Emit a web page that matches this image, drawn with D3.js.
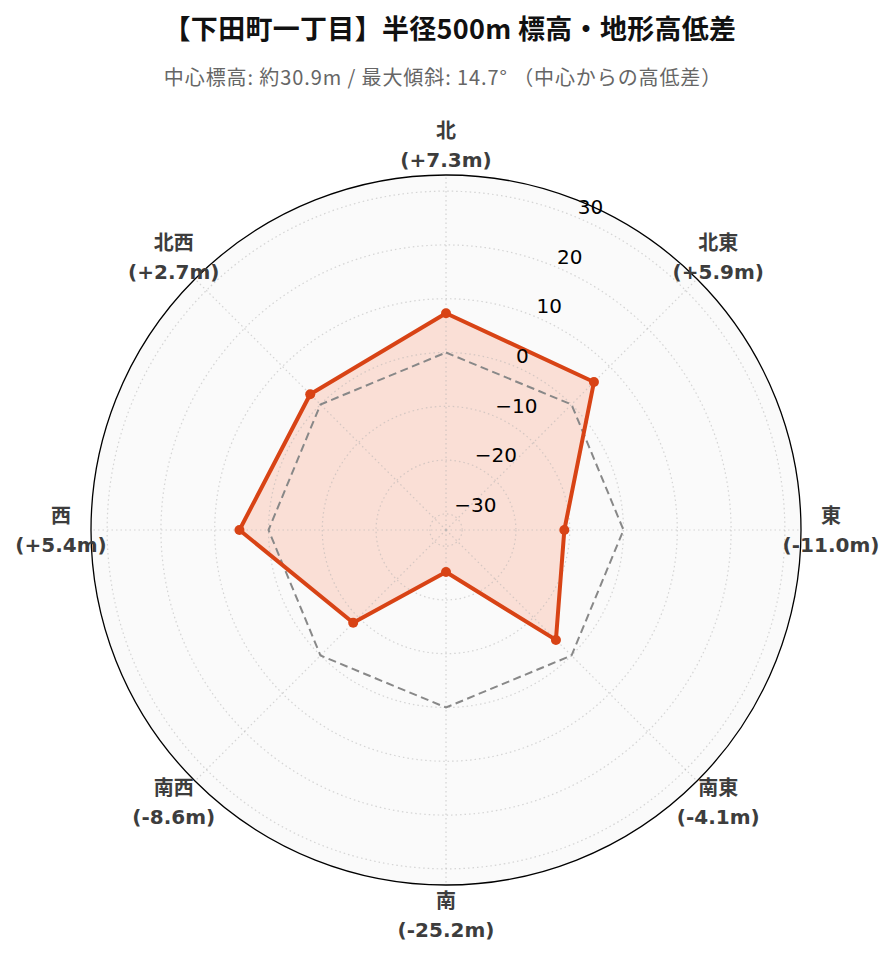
<!DOCTYPE html>
<html>
<head>
<meta charset="utf-8">
<script src="https://cdn.jsdelivr.net/npm/d3@7"></script>
<style>
  html, body { margin: 0; padding: 0; background: #fff; }
  svg { display: block; }
</style>
</head>
<body>
<svg id="chart" width="896" height="962"></svg>
<script>
const titleText = "【下田町一丁目】半径500m 標高・地形高低差";
const subtitleText = "中心標高: 約30.9m / 最大傾斜: 14.7° （中心からの高低差）";
const directions = ["北", "北東", "東", "南東", "南", "南西", "西", "北西"];
const elevationDiff = [7.3, 5.9, -11.0, -4.1, -25.2, -8.6, 5.4, 2.7];
const baselineValues = [0, 0, 0, 0, 0, 0, 0, 0];
const radialTicks = [-30, -20, -10, 0, 10, 20, 30];
const radialDomain = [-33, 33];

const svg = d3.select("#chart");
const cx = 446, cy = 530, R = 355;
const g = svg.append("g").attr("transform", `translate(${cx},${cy})`);

const rScale = d3.scaleLinear().domain(radialDomain).range([0, R]);
const aScale = d3.scalePoint().domain(directions).range([0, 2 * Math.PI * (directions.length - 1) / directions.length]);
const pt = (a, r) => [r * Math.sin(a), -r * Math.cos(a)];

// background
g.append("circle").attr("r", R).attr("fill", "#fafafa");

const radial = d3.lineRadial().angle(d => aScale(d.dir)).radius(d => rScale(d.v)).curve(d3.curveLinearClosed);
const data = directions.map((dir, i) => ({ dir, v: elevationDiff[i] }));
const base = directions.map((dir, i) => ({ dir, v: baselineValues[i] }));

// data fill (below grid)
g.append("path").attr("d", radial(data)).attr("fill", "#ff5722").attr("fill-opacity", 0.16).attr("stroke", "none");

// grid circles
g.selectAll("circle.grid").data(radialTicks).enter().append("circle")
  .attr("class", "grid").attr("r", d => rScale(d))
  .attr("fill", "none").attr("stroke", "#b0b0b0").attr("stroke-opacity", 0.5)
  .attr("stroke-width", 1.2).attr("stroke-dasharray", "1.5,3");

// angular grid lines
g.selectAll("line.spoke").data(directions).enter().append("line")
  .attr("class", "spoke")
  .attr("x1", 0).attr("y1", 0)
  .attr("x2", d => pt(aScale(d), R)[0]).attr("y2", d => pt(aScale(d), R)[1])
  .attr("stroke", "#b0b0b0").attr("stroke-opacity", 0.5)
  .attr("stroke-width", 1.2).attr("stroke-dasharray", "1.5,3");

// outer spine
g.append("circle").attr("r", R).attr("fill", "none").attr("stroke", "#000").attr("stroke-width", 1.3);

// baseline dashed
g.append("path").attr("d", radial(base)).attr("fill", "none")
  .attr("stroke", "#888").attr("stroke-width", 2).attr("stroke-dasharray", "8,4.5");

// data line
g.append("path").attr("d", radial(data)).attr("fill", "none")
  .attr("stroke", "#d84315").attr("stroke-width", 4).attr("stroke-linejoin", "round");

g.selectAll("circle.pt").data(data).enter().append("circle")
  .attr("class", "pt")
  .attr("cx", d => pt(aScale(d.dir), rScale(d.v))[0])
  .attr("cy", d => pt(aScale(d.dir), rScale(d.v))[1])
  .attr("r", 5).attr("fill", "#d84315");

// radial tick labels at 22.5°
const labelAngle = 22.5 * Math.PI / 180;
g.selectAll("text.rtick").data(radialTicks).enter().append("text")
  .attr("class", "rtick")
  .attr("x", d => pt(labelAngle, rScale(d))[0] + 2)
  .attr("y", d => pt(labelAngle, rScale(d))[1] - 10)
  .attr("dominant-baseline", "central")
  .attr("font-family", "DejaVu Sans, sans-serif")
  .attr("font-size", 20).attr("fill", "#000")
  .text(d => d < 0 ? "\u2212" + Math.abs(d) : String(d));

// angular labels
const fmt = v => (v >= 0 ? "+" : "-") + Math.abs(v).toFixed(1) + "m";
const labR = 385;
const lab = g.selectAll("g.alab").data(data).enter().append("g").attr("class", "alab")
  .attr("transform", d => { const p = pt(aScale(d.dir), labR); return `translate(${p[0]},${p[1]})`; });
lab.append("text").attr("y", -14.5).attr("text-anchor", "middle").attr("dominant-baseline", "central")
  .attr("font-family", "DejaVu Sans, Noto Sans CJK JP, sans-serif").attr("font-weight", "bold")
  .attr("font-size", 20).attr("fill", "#3d3d3d").text(d => d.dir);
lab.append("text").attr("y", 14.5).attr("text-anchor", "middle").attr("dominant-baseline", "central")
  .attr("font-family", "DejaVu Sans, Noto Sans CJK JP, sans-serif").attr("font-weight", "bold")
  .attr("font-size", 20).attr("fill", "#3d3d3d").text(d => "(" + fmt(d.v) + ")");

// titles
svg.append("text").attr("x", 450).attr("y", 27).attr("text-anchor", "middle").attr("dominant-baseline", "central")
  .attr("font-family", "Noto Sans CJK JP, sans-serif").attr("font-weight", "bold")
  .attr("font-size", 27).attr("letter-spacing", 0.3).attr("fill", "#111").text(titleText);
svg.append("text").attr("x", 443).attr("y", 76).attr("text-anchor", "middle").attr("dominant-baseline", "central")
  .attr("font-family", "Noto Sans CJK JP, sans-serif")
  .attr("font-size", 20).attr("letter-spacing", 0.9).attr("fill", "#666").text(subtitleText);
</script>
</body>
</html>
